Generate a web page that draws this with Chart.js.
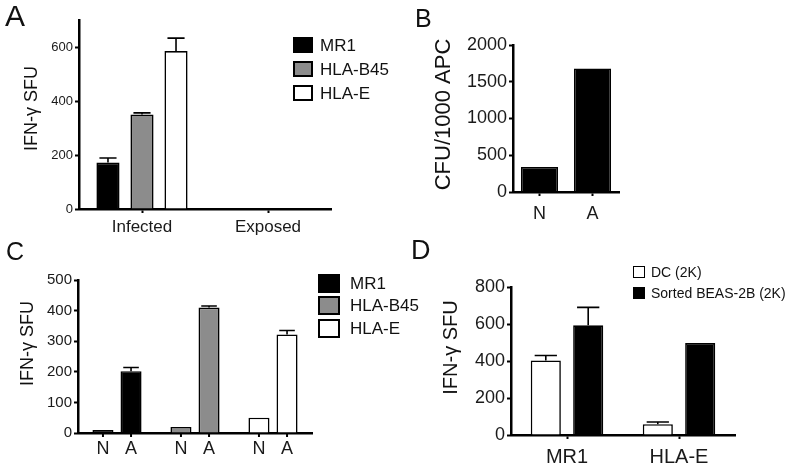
<!DOCTYPE html>
<html><head><meta charset="utf-8">
<script src="https://cdn.jsdelivr.net/npm/chart.js@4.4.1/dist/chart.umd.min.js"></script>
<style>
body{margin:0;background:#fff;width:797px;height:472px;overflow:hidden;position:relative;font-family:"Liberation Sans",Arial,Helvetica,sans-serif;color:#111}
.pane{position:absolute}
.letter{position:absolute;line-height:1;color:#111}
.legrow{position:absolute;white-space:nowrap;line-height:1;color:#111}
.sw{position:absolute;box-sizing:border-box;border:2px solid #000}
</style>
</head><body>
<div class="pane" style="left:0;top:0;width:400px;height:250px"><canvas id="cA" width="400" height="250"></canvas></div>
<div class="pane" style="left:400px;top:0;width:397px;height:250px"><canvas id="cB" width="397" height="250"></canvas></div>
<div class="pane" style="left:0;top:235px;width:400px;height:237px"><canvas id="cC" width="400" height="237"></canvas></div>
<div class="pane" style="left:400px;top:235px;width:397px;height:237px"><canvas id="cD" width="397" height="237"></canvas></div>
<div class="letter" style="left:5px;top:1px;font-size:30px">A</div>
<div class="letter" style="left:415px;top:6px;font-size:25px">B</div>
<div class="letter" style="left:6px;top:239px;font-size:25px">C</div>
<div class="letter" style="left:411px;top:237px;font-size:27px">D</div>
<div id="legends"></div>
<script>
// ---------- DATA ----------
// Panel A
const aCategories = ['Infected', 'Exposed'];
const aSeries = ['MR1', 'HLA-B45', 'HLA-E'];
const aMR1 = [172, 0];
const aHLAB45 = [350, 0];
const aHLAE = [585, 0];
const aMR1Err = [17, 0];
const aHLAB45Err = [6, 0];
const aHLAEErr = [48, 0];
const aTicks = [0, 200, 400, 600];
const aYTitle = 'IFN-\u03B3 SFU';
// Panel B
const bCategories = ['N', 'A'];
const bValues = [340, 1680];
const bTicks = [0, 500, 1000, 1500, 2000];
const bYTitle = 'CFU/1000 APC';
// Panel C
const cGroups = ['MR1', 'HLA-B45', 'HLA-E'];
const cSubLabels = ['N', 'A'];
const cN = [10, 20, 50];
const cA = [202, 410, 322];
const cNErr = [0, 0, 0];
const cAErr = [12, 5, 13];
const cTicks = [0, 100, 200, 300, 400, 500];
const cYTitle = 'IFN-\u03B3 SFU';
// Panel D
const dCategories = ['MR1', 'HLA-E'];
const dSeries = ['DC (2K)', 'Sorted BEAS-2B (2K)'];
const dDC = [403, 58];
const dSorted = [593, 497];
const dDCErr = [27, 12];
const dSortedErr = [97, 0];
const dTicks = [0, 200, 400, 600, 800];
const dYTitle = 'IFN-\u03B3 SFU';

// ---------- STYLE ----------
const BLACK = '#000000', GRAY = '#8c8c8c', WHITE = '#ffffff';
const FONT = '"Liberation Sans", Arial, Helvetica, sans-serif';
Chart.defaults.font.family = FONT;
Chart.defaults.color = '#1a1a1a';

const errorBars = {
  id: 'errorBars',
  afterDatasetsDraw(chart) {
    const ctx = chart.ctx, ys = chart.scales.y;
    chart.data.datasets.forEach((ds, i) => {
      if (!ds.errors) return;
      const meta = chart.getDatasetMeta(i);
      meta.data.forEach((bar, j) => {
        const e = ds.errors[j];
        if (!e) return;
        const top = ys.getPixelForValue(ds.data[j] + e);
        const half = bar.width * 0.37;
        ctx.save();
        ctx.strokeStyle = '#000'; ctx.lineWidth = 1.6;
        ctx.beginPath();
        ctx.moveTo(bar.x, bar.y); ctx.lineTo(bar.x, top);
        ctx.moveTo(bar.x - half, top); ctx.lineTo(bar.x + half, top);
        ctx.stroke(); ctx.restore();
      });
    });
  }
};

// y-axis title, drawn beside the y scale (shifted like the original layout)
const yTitle = {
  id: 'yTitle',
  afterDraw(chart, args, o) {
    const ca = chart.chartArea, ctx = chart.ctx;
    ctx.save();
    ctx.font = o.size + 'px ' + FONT; ctx.fillStyle = '#111';
    ctx.textAlign = 'center'; ctx.textBaseline = 'middle';
    ctx.translate(o.x, (ca.top + ca.bottom) / 2 + o.dy);
    ctx.rotate(-Math.PI / 2);
    ctx.fillText(o.text, 0, 0);
    ctx.restore();
  }
};

function yScale(max, tickVals, fs, width) {
  return {
    min: 0, max: max, z: 1,
    border: {display: true, color: '#000', width: 2.5},
    grid: {display: true, drawOnChartArea: false, drawTicks: true, tickLength: 4, tickWidth: 2, color: '#000'},
    afterBuildTicks: s => { s.ticks = tickVals.map(v => ({value: v})); },
    ticks: {color: '#1a1a1a', font: {size: fs}, padding: 2, callback: v => String(v)},
    afterFit: s => { s.width = width; }
  };
}
function xScale(fs, pad, height, showTicks) {
  return {
    z: 1,
    border: {display: true, color: '#000', width: 2.5},
    grid: {display: showTicks, offset: false, drawOnChartArea: false, drawTicks: true, tickLength: 4, tickWidth: 2, color: '#000'},
    ticks: {display: showTicks, color: '#1a1a1a', font: {size: fs}, padding: pad, maxRotation: 0, autoSkip: false},
    afterFit: s => { s.height = height; }
  };
}
function bar(label, data, errs, color, cp, bp) {
  return {label, data, errors: errs, backgroundColor: color, borderColor: '#000', borderWidth: 1.6,
          categoryPercentage: cp, barPercentage: bp};
}
function opts(padding, xs, ys, title) {
  return {responsive: false, animation: false, devicePixelRatio: 1,
    layout: {padding},
    plugins: {legend: {display: false}, tooltip: {enabled: false}, yTitle: title},
    scales: {x: xs, y: ys}};
}

// Panel A
new Chart(document.getElementById('cA'), {
  type: 'bar',
  data: {labels: aCategories, datasets: [
    bar(aSeries[0], aMR1, aMR1Err, BLACK, 0.81, 0.68),
    bar(aSeries[1], aHLAB45, aHLAB45Err, GRAY, 0.81, 0.68),
    bar(aSeries[2], aHLAE, aHLAEErr, WHITE, 0.81, 0.68)]},
  options: opts({top: 20, right: 69, left: 0, bottom: 0}, xScale(17, 4, 41, true), yScale(700, aTicks, 13, 79),
    {text: aYTitle, size: 18, x: 32.5, dy: -6}),
  plugins: [errorBars, yTitle]
});

// Panel B
new Chart(document.getElementById('cB'), {
  type: 'bar',
  data: {labels: bCategories, datasets: [bar('CFU', bValues, null, BLACK, 1, 0.7)]},
  options: opts({top: 45, right: 178, left: 0, bottom: 0}, xScale(18, 7, 58, true), yScale(2000, bTicks, 18, 113),
    {text: bYTitle, size: 22, x: 44, dy: -4}),
  plugins: [yTitle]
});

// Panel C
const subTicks = {
  id: 'subTicks',
  afterDraw(chart) {
    const ctx = chart.ctx, bottom = chart.chartArea.bottom;
    ctx.save();
    ctx.font = '18px ' + FONT; ctx.fillStyle = '#1a1a1a';
    ctx.textAlign = 'center'; ctx.textBaseline = 'middle';
    ctx.strokeStyle = '#000'; ctx.lineWidth = 2;
    chart.data.datasets.forEach((ds, i) => {
      chart.getDatasetMeta(i).data.forEach(b => {
        ctx.beginPath(); ctx.moveTo(b.x, bottom); ctx.lineTo(b.x, bottom + 4); ctx.stroke();
        ctx.fillText(ds.label, b.x, bottom + 16);
      });
    });
    ctx.restore();
  }
};
const cColors = [BLACK, GRAY, WHITE];
new Chart(document.getElementById('cC'), {
  type: 'bar',
  data: {labels: cGroups, datasets: [
    bar(cSubLabels[0], cN, cNErr, cColors, 0.72, 0.75),
    bar(cSubLabels[1], cA, cAErr, cColors, 0.72, 0.75)]},
  options: opts({top: 45, right: 88, left: 0, bottom: 0}, xScale(18, 4, 39, false), yScale(500, cTicks, 15, 78),
    {text: cYTitle, size: 18, x: 28, dy: -13}),
  plugins: [errorBars, subTicks, yTitle]
});

// Panel D
new Chart(document.getElementById('cD'), {
  type: 'bar',
  data: {labels: dCategories, datasets: [
    bar(dSeries[0], dDC, dDCErr, WHITE, 0.757, 0.71),
    bar(dSeries[1], dSorted, dSortedErr, BLACK, 0.757, 0.71)]},
  options: opts({top: 52, right: 62, left: 0, bottom: 0}, xScale(20, 6, 37, true), yScale(800, dTicks, 18, 111),
    {text: dYTitle, size: 20, x: 51, dy: -13.5}),
  plugins: [errorBars, yTitle]
});

// ---------- LEGENDS (HTML text) ----------
function legend(names, colors, o) {
  const host = document.getElementById('legends');
  names.forEach((n, i) => {
    const cy = o.y0 + i * o.dy;
    const sw = document.createElement('div');
    sw.className = 'sw';
    sw.style.cssText = `left:${o.x}px;top:${cy - o.h / 2}px;width:${o.w}px;height:${o.h}px;background:${colors[i]};border-width:${o.bw}px`;
    host.appendChild(sw);
    const t = document.createElement('div');
    t.className = 'legrow';
    t.style.cssText = `left:${o.tx}px;top:${cy - o.fs * 0.5}px;font-size:${o.fs}px`;
    t.textContent = n;
    host.appendChild(t);
  });
}
legend(aSeries, [BLACK, GRAY, WHITE], {x: 293, w: 20, h: 16, bw: 2, y0: 45, dy: 24, tx: 320, fs: 17});
legend(cGroups, [BLACK, GRAY, WHITE], {x: 318, w: 22, h: 19, bw: 2, y0: 283, dy: 22.5, tx: 350, fs: 17});
legend(dSeries, [WHITE, BLACK], {x: 633, w: 12, h: 12, bw: 1.5, y0: 272, dy: 21, tx: 651, fs: 14});
</script>
</body></html>
